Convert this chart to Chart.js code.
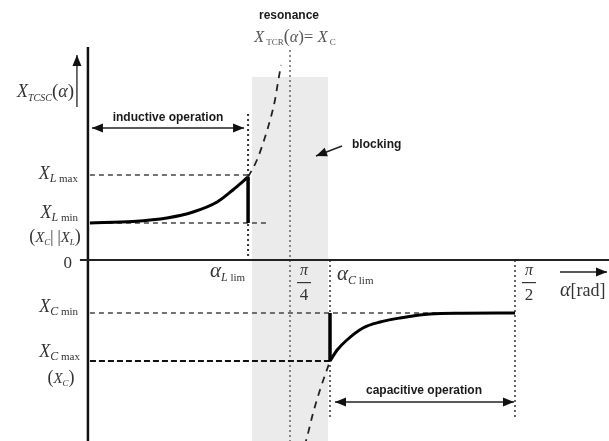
<!DOCTYPE html>
<html>
<head>
<meta charset="utf-8">
<script src="https://cdn.jsdelivr.net/npm/chart.js@4.4.1/dist/chart.umd.min.js"></script>
<style>
  body { margin: 0; background: #fff; }
  canvas { display: block; }
</style>
</head>
<body>
<canvas id="grafico" width="609" height="441"></canvas>
<script>
// firing angle alpha [rad] and reactance X_TCSC (arbitrary units)
const inductiveAlpha = [0.087, 0.237, 0.356, 0.447, 0.531, 0.586, 0.639];
const inductiveX     = [3.7, 3.85, 4.2, 4.8, 5.8, 7.0, 8.3];

const resonanceUpAlpha = [0.639, 0.670, 0.695, 0.716, 0.733, 0.743, 0.754];
const resonanceUpX     = [8.3, 10.0, 12.0, 14.0, 16.0, 17.7, 19.5];

const capacitiveAlpha = [0.925, 0.950, 0.984, 1.040, 1.100, 1.169, 1.274, 1.389, 1.571];
const capacitiveX     = [-10.1, -9.0, -8.0, -6.8, -6.2, -5.8, -5.4, -5.33, -5.3];

const resonanceDownAlpha = [0.836, 0.845, 0.866, 0.890, 0.925];
const resonanceDownX     = [-18.6, -17.7, -15.3, -13.0, -10.1];

// reference levels: X_Lmax, X_Lmin, X_Cmin, X_Cmax
const refLevels = [8.5, 3.7, -5.3, -10.1];
const refEnds   = [0.639, 0.709, 1.571, 0.925];

// vertical markers: alpha_Llim, pi/4, alpha_Clim, pi/2
const markAlpha  = [0.639, Math.PI / 4, 0.925, Math.PI / 2];
const markTop    = [14.6, 21.0, 0, 0];
const markBottom = [0, -18.1, -16.0, -15.7];

// blocking band
const blockAlpha = [0.653, 0.918];
const blockTop = 18.3;

const Y_AXIS_ALPHA = 0.08;

const SERIF = '"Liberation Serif", "DejaVu Serif", serif';
const SANS = '"Liberation Sans", Arial, sans-serif';

function pts(xs, ys) {
    return xs.map((v, i) => ({ x: v, y: ys[i] }));
}

function drawRuns(ctx, parts, x, y, align) {
    let w = 0;
    parts.forEach(p => { ctx.font = p[1]; w += ctx.measureText(p[0]).width; });
    let cx = align === 'center' ? x - w / 2 : (align === 'right' ? x - w : x);
    parts.forEach(p => {
        ctx.font = p[1];
        ctx.fillText(p[0], cx, y + (p[2] || 0));
        cx += ctx.measureText(p[0]).width;
    });
}

function arrowHead(ctx, x, y, ang, len, half) {
    ctx.beginPath();
    ctx.moveTo(x, y);
    ctx.lineTo(x - len * Math.cos(ang) + half * Math.sin(ang), y - len * Math.sin(ang) - half * Math.cos(ang));
    ctx.lineTo(x - len * Math.cos(ang) - half * Math.sin(ang), y - len * Math.sin(ang) + half * Math.cos(ang));
    ctx.closePath();
    ctx.fill();
}

function arrow(ctx, x0, y0, x1, y1, both) {
    const ang = Math.atan2(y1 - y0, x1 - x0);
    ctx.beginPath();
    ctx.moveTo(x0, y0);
    ctx.lineTo(x1, y1);
    ctx.stroke();
    arrowHead(ctx, x1, y1, ang, 11, 4.5);
    if (both) arrowHead(ctx, x0, y0, ang + Math.PI, 11, 4.5);
}

const sketchPlugin = {
    id: 'sketch',
    beforeDatasetsDraw(chart) {
        const { ctx, scales: { x, y } } = chart;
        const x0 = x.getPixelForValue(blockAlpha[0]);
        const x1 = x.getPixelForValue(blockAlpha[1]);
        const yt = y.getPixelForValue(blockTop);
        ctx.save();
        ctx.fillStyle = '#ebebeb';
        ctx.fillRect(x0, yt, x1 - x0, chart.height - yt);
        ctx.restore();
    },
    afterDatasetsDraw(chart) {
        const { ctx, scales: { x, y } } = chart;
        const ax = x.getPixelForValue(Y_AXIS_ALPHA);
        const ay = y.getPixelForValue(0);
        ctx.save();

        // axes
        ctx.strokeStyle = '#111';
        ctx.lineWidth = 2.5;
        ctx.beginPath();
        ctx.moveTo(ax, 47);
        ctx.lineTo(ax, chart.height);
        ctx.stroke();
        ctx.lineWidth = 2;
        ctx.strokeStyle = '#222';
        ctx.beginPath();
        ctx.moveTo(ax - 8, ay);
        ctx.lineTo(chart.width, ay);
        ctx.stroke();

        // small axis arrows
        ctx.fillStyle = '#111';
        ctx.strokeStyle = '#222';
        ctx.lineWidth = 1.3;
        arrow(ctx, ax - 11, 107, ax - 11, 55, false);
        arrow(ctx, 560, 272, 607, 272, false);

        // operation ranges
        ctx.lineWidth = 1.5;
        arrow(ctx, ax + 4, 128, x.getPixelForValue(markAlpha[0]) - 4, 128, true);
        arrow(ctx, x.getPixelForValue(markAlpha[2]) + 5, 402, x.getPixelForValue(markAlpha[3]) - 1, 402, true);
        arrow(ctx, 342, 146, 316, 156, false);

        // bold annotations
        ctx.fillStyle = '#1a1a1a';
        ctx.textBaseline = 'alphabetic';
        ctx.font = 'bold 12px ' + SANS;
        ctx.textAlign = 'center';
        ctx.fillText('resonance', 289, 19);
        ctx.fillText('inductive operation', 168, 121);
        ctx.fillText('capacitive operation', 424, 394);
        ctx.textAlign = 'left';
        ctx.fillText('blocking', 352, 148);

        // math labels
        ctx.fillStyle = '#333';
        const fX = 'italic 18px ' + SERIF;
        const fSubI = 'italic 12px ' + SERIF;
        const fSub = '11px ' + SERIF;
        const fSmall = '9px ' + SERIF;
        const fA = 'italic 21px ' + SERIF;

        drawRuns(ctx, [['X', fX], ['TCSC', 'italic 10px ' + SERIF, 4], ['(', '19px ' + SERIF], ['α', 'italic 18px ' + SERIF], [')', '19px ' + SERIF]], 74, 97, 'right');

        ctx.fillStyle = '#555';
        drawRuns(ctx, [['X', 'italic 16px ' + SERIF], [' TCR', fSmall, 3], ['(', '18px ' + SERIF], ['α', 'italic 16px ' + SERIF], [')= ', '17px ' + SERIF], ['X', 'italic 16px ' + SERIF], [' C', fSmall, 3]], 295, 42, 'center');

        ctx.fillStyle = '#333';
        drawRuns(ctx, [['X', fX], ['L', fSubI, 3], [' max', fSub, 3]], 78, 179, 'right');
        drawRuns(ctx, [['X', fX], ['L', fSubI, 3], [' min', fSub, 3]], 78, 218, 'right');
        drawRuns(ctx, [['(', '18px ' + SERIF], ['X', 'italic 15px ' + SERIF], ['C', 'italic 9px ' + SERIF, 3], ['| |', '16px ' + SERIF], ['X', 'italic 15px ' + SERIF], ['L', 'italic 9px ' + SERIF, 3], [')', '18px ' + SERIF]], 55, 242, 'center');
        drawRuns(ctx, [['0', '17px ' + SERIF]], 72, 268, 'right');
        drawRuns(ctx, [['X', fX], ['C', fSubI, 3], [' min', fSub, 3]], 78, 312, 'right');
        drawRuns(ctx, [['X', fX], ['C', fSubI, 3], [' max', fSub, 3]], 80, 357, 'right');
        drawRuns(ctx, [['(', '18px ' + SERIF], ['X', 'italic 15px ' + SERIF], ['C', 'italic 9px ' + SERIF, 3], [')', '18px ' + SERIF]], 61, 383, 'center');

        drawRuns(ctx, [['α', fA], ['L', fSubI, 4], [' lim', fSub, 4]], 210, 277, 'left');
        drawRuns(ctx, [['α', fA], ['C', fSubI, 4], [' lim', fSub, 4]], 337, 280, 'left');
        drawRuns(ctx, [['α', 'italic 20px ' + SERIF], ['[rad]', '18px ' + SERIF]], 560, 296, 'left');

        // pi fractions
        [[markAlpha[1], '4'], [markAlpha[3], '2']].forEach(f => {
            const cx = x.getPixelForValue(f[0]) + 14;
            ctx.textAlign = 'center';
            ctx.font = 'italic 16px ' + SERIF;
            ctx.fillText('π', cx, 275);
            ctx.font = '17px ' + SERIF;
            ctx.fillText(f[1], cx, 300);
            ctx.fillRect(cx - 7, 282, 14, 1.2);
        });

        ctx.restore();
    }
};

const datasets = [
    { data: pts(inductiveAlpha, inductiveX), borderColor: '#000', borderWidth: 3, cubicInterpolationMode: 'monotone' },
    { data: pts([markAlpha[0], markAlpha[0]], [refLevels[1], inductiveX[inductiveX.length - 1]]), borderColor: '#000', borderWidth: 3.5 },
    { data: pts(resonanceUpAlpha, resonanceUpX), borderColor: '#222', borderWidth: 1.8, borderDash: [7, 6], cubicInterpolationMode: 'monotone' },
    { data: pts(capacitiveAlpha, capacitiveX), borderColor: '#000', borderWidth: 3, cubicInterpolationMode: 'monotone' },
    { data: pts([markAlpha[2], markAlpha[2]], [refLevels[2], refLevels[3]]), borderColor: '#000', borderWidth: 3.5 },
    { data: pts(resonanceDownAlpha, resonanceDownX), borderColor: '#222', borderWidth: 1.8, borderDash: [7, 6], cubicInterpolationMode: 'monotone' }
];

refLevels.forEach((lv, i) => {
    datasets.push({
        data: pts([Y_AXIS_ALPHA + 0.007, refEnds[i]], [lv, lv]),
        borderColor: i === 3 ? '#111' : '#444',
        borderWidth: i === 3 ? 2 : 1.3,
        borderDash: i === 3 ? [6, 3] : [5, 4]
    });
});

markAlpha.forEach((a, i) => {
    datasets.push({
        data: pts([a, a], [markTop[i], markBottom[i]]),
        borderColor: i === 1 ? '#666' : '#333',
        borderWidth: i === 0 ? 2 : 1.5,
        borderDash: [2, 3]
    });
});

datasets.forEach(d => {
    d.showLine = true;
    d.pointRadius = 0;
    d.borderCapStyle = 'butt';
});

new Chart(document.getElementById('grafico').getContext('2d'), {
    type: 'scatter',
    data: { datasets: datasets },
    options: {
        responsive: false,
        animation: false,
        layout: { padding: 0 },
        scales: {
            x: { type: 'linear', min: -0.227, max: 1.899, display: false },
            y: { type: 'linear', min: -18.1, max: 26.0, display: false }
        },
        plugins: {
            legend: { display: false },
            tooltip: { enabled: false }
        }
    },
    plugins: [sketchPlugin]
});
</script>
</body>
</html>
